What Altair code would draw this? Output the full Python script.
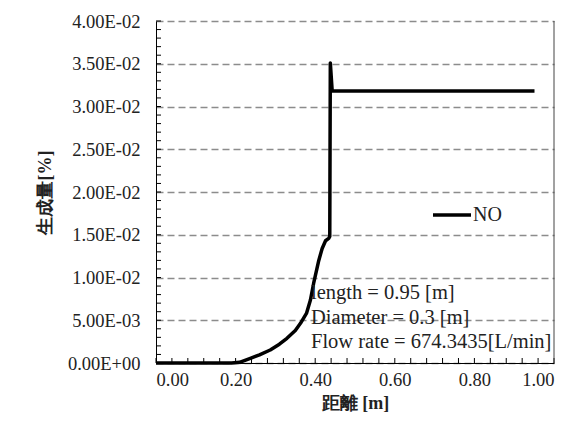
import altair as alt
import pandas as pd

# NO concentration along the reactor
dist = [0.00, 0.05, 0.10, 0.15, 0.19, 0.21, 0.237, 0.26, 0.287, 0.31, 0.329, 0.35, 0.363,
        0.378, 0.388, 0.396, 0.409, 0.4175, 0.426, 0.434, 0.4366, 0.438, 0.4427, 0.50,
        0.60, 0.70, 0.80, 0.90, 0.951]
no_val = [0.0, 0.0, 0.0, 0.0, 0.0, 0.00008, 0.00055, 0.00095, 0.00152, 0.0022, 0.00289,
          0.0038, 0.00464, 0.0058, 0.00737, 0.0093, 0.0120, 0.0134, 0.0143, 0.01458,
          0.0148, 0.0351, 0.0318, 0.0318, 0.0318, 0.0318, 0.0318, 0.0318, 0.0318]
series_name = "NO"

y_ticks = [0.0, 0.005, 0.01, 0.015, 0.02, 0.025, 0.03, 0.035, 0.04]
y_tick_labels = ["0.00E+00", "5.00E-03", "1.00E-02", "1.50E-02", "2.00E-02",
                 "2.50E-02", "3.00E-02", "3.50E-02", "4.00E-02"]
x_ticks = [0.0, 0.2, 0.4, 0.6, 0.8, 1.0]
y_minor = [i / 1000 for i in range(0, 41)]
x_minor = [i * 0.04 for i in range(0, 26)]

annotation = "length = 0.95 [m]\nDiameter = 0.3 [m]\nFlow rate = 674.3435[L/min]"

W, H = 398, 342
SERIF = "Liberation Serif"
TITLEFONT = "Liberation Serif"

df = pd.DataFrame({"x": dist, "y": no_val, "s": [series_name] * len(dist)})

label_expr = "[" + ",".join("'%s'" % s for s in y_tick_labels) + "][round(datum.value/0.005)]"

xscale = alt.Scale(domain=[0, 1], nice=False, zero=False)
yscale = alt.Scale(domain=[0, 0.04], nice=False, zero=False)

line = alt.Chart(df).mark_line(strokeWidth=3.5, strokeJoin="round").encode(
    x=alt.X("x:Q", scale=xscale,
            axis=alt.Axis(values=x_ticks, format=".2f", title="距離 [m]",
                          ticks=False, tickSize=0, grid=False,
                          domainColor="black", domainWidth=1,
                          labelFont=SERIF, labelFontSize=18.5, labelColor="#222",
                          labelPadding=7, titleFont=TITLEFONT, titleFontSize=18,
                          titleFontWeight="bold", titleColor="#222", titlePadding=6)),
    y=alt.Y("y:Q", scale=yscale,
            axis=alt.Axis(values=y_ticks, labelExpr=label_expr, title="生成量[%]",
                          ticks=False, tickSize=0, grid=True, gridColor="#8c8c8c",
                          gridDash=[7, 4], gridWidth=1.3,
                          domainColor="black", domainWidth=1,
                          labelFont=SERIF, labelFontSize=18.5, labelColor="#222",
                          labelPadding=16, titleFont=TITLEFONT, titleFontSize=18,
                          titleFontWeight="bold", titleColor="#222", titlePadding=13)),
    color=alt.Color("s:N", scale=alt.Scale(range=["black"]),
                    legend=alt.Legend(title=None, orient="none", legendX=275, legendY=173,
                                      symbolType="stroke", symbolSize=1444,
                                      symbolStrokeWidth=3.5, labelFont=SERIF,
                                      labelFontSize=20, labelColor="#222",
                                      labelOffset=0, padding=0)),
)

ytick_df = pd.DataFrame({"v": y_minor})
xtick_df = pd.DataFrame({"v": x_minor})

yticks = alt.Chart(ytick_df).mark_rule(color="black", strokeWidth=1).encode(
    y=alt.Y("v:Q", scale=yscale), x=alt.value(0), x2=alt.value(5))
xticks = alt.Chart(xtick_df).mark_rule(color="black", strokeWidth=1).encode(
    x=alt.X("v:Q", scale=xscale), y=alt.value(H), y2=alt.value(H - 5))

right_border = alt.Chart(pd.DataFrame({"a": [1]})).mark_rule(color="#444", strokeWidth=1).encode(
    x=alt.datum(1.0, scale=xscale), y=alt.datum(0.0), y2=alt.datum(0.04))

text = alt.Chart(pd.DataFrame({"a": [1]})).mark_text(
    text=annotation, lineBreak="\n", align="left", baseline="middle",
    font=SERIF, fontSize=20.5, lineHeight=24.5, color="#222").encode(
    x=alt.value(155), y=alt.value(272))

chart = alt.layer(yticks, xticks, right_border, line, text).properties(
    width=W, height=H,
    autosize=alt.AutoSizeParams(type="none"),
    padding={"left": 148, "top": 13, "right": 16, "bottom": 50},
).configure_view(stroke=None)

chart.save("out.html", embed_options={"renderer": "svg", "actions": False})
